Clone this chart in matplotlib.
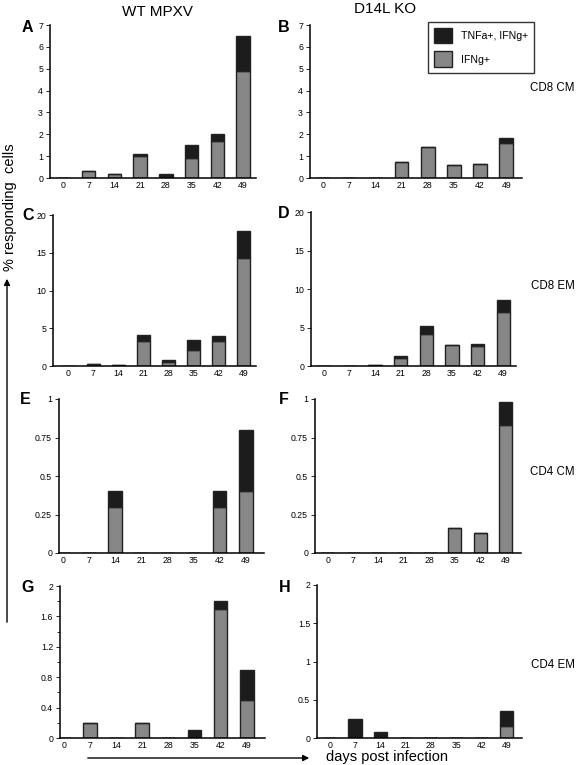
import matplotlib
matplotlib.use("Agg")
import matplotlib.pyplot as plt
from matplotlib.patches import Patch, FancyArrowPatch

plt.rcParams['font.family'] = ['Liberation Sans', 'DejaVu Sans']

days = ['0', '7', '14', '21', '28', '35', '42', '49']

# IFNg+ only (grey) and total height incl. TNFa+, IFNg+ (black on top)
wt_cd8cm_ifng = [0, 0.3, 0.2, 1.0, 0.05, 0.9, 1.7, 4.9]
wt_cd8cm_total = [0, 0.3, 0.2, 1.1, 0.2, 1.5, 2.0, 6.5]
ko_cd8cm_ifng = [0, 0, 0, 0.75, 1.4, 0.6, 0.65, 1.6]
ko_cd8cm_total = [0, 0, 0, 0.75, 1.4, 0.6, 0.65, 1.85]

wt_cd8em_ifng = [0, 0.3, 0.18, 3.3, 0.55, 2.1, 3.3, 14.3]
wt_cd8em_total = [0, 0.3, 0.18, 4.1, 0.75, 3.4, 4.0, 17.9]
ko_cd8em_ifng = [0, 0, 0.1, 1.0, 4.1, 2.7, 2.6, 7.0]
ko_cd8em_total = [0, 0, 0.1, 1.25, 5.15, 2.7, 2.9, 8.6]

wt_cd4cm_ifng = [0, 0, 0.3, 0, 0, 0, 0.3, 0.4]
wt_cd4cm_total = [0, 0, 0.4, 0, 0, 0, 0.4, 0.8]
ko_cd4cm_ifng = [0, 0, 0, 0, 0, 0.16, 0.13, 0.83]
ko_cd4cm_total = [0, 0, 0, 0, 0, 0.16, 0.13, 0.98]

wt_cd4em_ifng = [0, 0.2, 0, 0.2, 0, 0, 1.7, 0.5]
wt_cd4em_total = [0, 0.2, 0, 0.2, 0, 0.1, 1.8, 0.9]
ko_cd4em_ifng = [0, 0, 0, 0, 0, 0, 0, 0.16]
ko_cd4em_total = [0, 0.25, 0.075, 0, 0, 0, 0, 0.35]

W, H = 576, 765
fig = plt.figure(figsize=(W / 100, H / 100), dpi=100)

GREY = '#878787'
BLACK = '#1c1c1c'
EDGE = '#222222'


def add_ax(x0, x1, y0, y1):
    return fig.add_axes([x0 / W, 1 - y1 / H, (x1 - x0) / W, (y1 - y0) / H])


def panel(ax, ifng, total, ymax, yticks, yticklabels, xlim, minor=None):
    x = list(range(len(days)))
    dual = [t - g for t, g in zip(total, ifng)]
    ax.bar(x, ifng, width=0.52, color=GREY, edgecolor=EDGE, linewidth=1.0)
    ax.bar(x, dual, width=0.52, bottom=ifng, color=BLACK, edgecolor=EDGE, linewidth=1.0)
    ax.set_ylim(0, ymax)
    ax.set_xlim(*xlim)
    ax.set_yticks(yticks)
    ax.set_yticklabels(yticklabels)
    if minor is not None:
        ax.set_yticks(minor, minor=True)
        ax.tick_params(axis='y', which='minor', length=2.5, width=0.6)
    ax.set_xticks(x)
    ax.set_xticklabels(days)
    ax.tick_params(axis='x', length=0, pad=2.5, labelsize=6.3)
    ax.tick_params(axis='y', length=3, width=0.6, pad=2, labelsize=6.3)
    for s in ['top', 'right']:
        ax.spines[s].set_visible(False)
    for s in ['left', 'bottom']:
        ax.spines[s].set_linewidth(1.1)
    ax.patch.set_alpha(0)


axA = add_ax(50, 256, 25, 178)
panel(axA, wt_cd8cm_ifng, wt_cd8cm_total, 7, range(8), [str(i) for i in range(8)], (-0.5, 7.5))
axB = add_ax(310, 522, 25, 178)
panel(axB, ko_cd8cm_ifng, ko_cd8cm_total, 7, range(8), [str(i) for i in range(8)], (-0.5, 7.6))

axC = add_ax(53, 256, 215, 366)
panel(axC, wt_cd8em_ifng, wt_cd8em_total, 20, [0, 5, 10, 15, 20], ['0', '5', '10', '15', '20'], (-0.6, 7.5))
axD = add_ax(311, 516, 212, 366)
panel(axD, ko_cd8em_ifng, ko_cd8em_total, 20, [0, 5, 10, 15, 20], ['0', '5', '10', '15', '20'], (-0.5, 7.5))

axE = add_ax(59, 264, 399, 553)
panel(axE, wt_cd4cm_ifng, wt_cd4cm_total, 1, [0, 0.25, 0.5, 0.75, 1], ['0', '0.25', '0.5', '0.75', '1'], (-0.15, 7.7))
axF = add_ax(315, 521, 399, 553)
panel(axF, ko_cd4cm_ifng, ko_cd4cm_total, 1, [0, 0.25, 0.5, 0.75, 1], ['0', '0.25', '0.5', '0.75', '1'], (-0.5, 7.6))

axG = add_ax(60, 265, 586, 738)
panel(axG, wt_cd4em_ifng, wt_cd4em_total, 2, [0, 0.4, 0.8, 1.2, 1.6, 2], ['0', '0.4', '0.8', '1.2', '1.6', '2'],
      (-0.15, 7.7), minor=[0.2, 0.6, 1.0, 1.4, 1.8])
axH = add_ax(317, 522, 585, 738)
panel(axH, ko_cd4em_ifng, ko_cd4em_total, 2, [0, 0.5, 1, 1.5, 2], ['0', '0.5', '1', '1.5', '2'], (-0.5, 7.6))


def ftext(x, y, s, **kw):
    fig.text(x / W, 1 - y / H, s, **kw)


# column titles
ftext(157, 12, 'WT MPXV', ha='center', va='center', fontsize=11)
ftext(385, 9, 'D14L KO', ha='center', va='center', fontsize=11)

# panel letters
for lab, x, y in [('A', 27, 27), ('B', 284, 27), ('C', 28, 215), ('D', 284, 213),
                  ('E', 25, 400), ('F', 284, 400), ('G', 28, 587), ('H', 285, 587)]:
    ftext(x, y, lab, ha='center', va='center', fontsize=11.5, fontweight='bold')

# row labels
for lab, y in [('CD8 CM', 88), ('CD8 EM', 286), ('CD4 CM', 472), ('CD4 EM', 665)]:
    ftext(575, y, lab, ha='right', va='center', fontsize=8.3)

# axis captions with arrows
ftext(10, 207, '% responding  cells', ha='center', va='center', rotation=90, fontsize=10.5)
fig.add_artist(FancyArrowPatch((7 / W, 1 - 625 / H), (7 / W, 1 - 276 / H),
                               transform=fig.transFigure, arrowstyle='-|>',
                               mutation_scale=9, linewidth=1.0, color='black'))
fig.add_artist(FancyArrowPatch((85 / W, 1 - 758 / H), (312 / W, 1 - 758 / H),
                               transform=fig.transFigure, arrowstyle='-|>',
                               mutation_scale=9, linewidth=1.0, color='black'))
ftext(326, 764, 'days post infection', ha='left', va='bottom', fontsize=10.5)

# legend
handles = [Patch(facecolor=BLACK, edgecolor=EDGE, label='TNFa+, IFNg+'),
           Patch(facecolor=GREY, edgecolor=EDGE, label='IFNg+')]
leg = fig.legend(handles=handles, loc='upper left', bbox_to_anchor=(428 / W, 1 - 22 / H),
                 fontsize=7.6, frameon=True, fancybox=False, edgecolor='black',
                 handlelength=1.7, handleheight=1.9, labelspacing=0.75, borderpad=0.55,
                 handletextpad=0.9, borderaxespad=0)
leg.get_frame().set_linewidth(1.0)

fig.savefig('out.png', dpi=100)
